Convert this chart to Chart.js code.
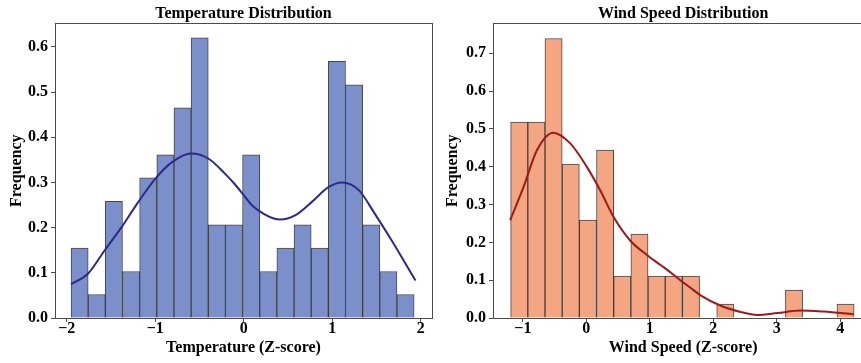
<!DOCTYPE html>
<html>
<head>
<meta charset="utf-8">
<script src="https://cdn.jsdelivr.net/npm/chart.js@4.4.1/dist/chart.umd.min.js"></script>
<style>
  html, body { margin: 0; padding: 0; background: #fff; overflow: hidden; }
  body { width: 861px; height: 363px; position: relative; }
  canvas { position: absolute; top: 0; }
  #tempChart { left: 0; }
  #windChart { left: 440px; }
</style>
</head>
<body>
<canvas id="tempChart" width="440" height="363"></canvas>
<canvas id="windChart" width="440" height="363"></canvas>
<script>
// Temperature histogram (density per bin) and its KDE curve
const tempBinStart = -1.951;
const tempBinWidth = 0.1938;
const tempHeights = [0.155, 0.052, 0.258, 0.103, 0.310, 0.361, 0.465, 0.620, 0.206, 0.206,
                     0.361, 0.103, 0.155, 0.206, 0.155, 0.568, 0.516, 0.206, 0.103, 0.052];
const tempKdeX = [-1.95, -1.76, -1.57, -1.38, -1.19, -1.0, -0.81, -0.59, -0.40, -0.21,
                  -0.10, 0.0, 0.09, 0.28, 0.41, 0.58, 0.77, 0.96, 1.11, 1.30, 1.48, 1.67, 1.94];
const tempKdeY = [0.075, 0.098, 0.150, 0.201, 0.257, 0.308, 0.345, 0.364, 0.353, 0.319,
                  0.296, 0.272, 0.250, 0.225, 0.218, 0.227, 0.257, 0.290, 0.300, 0.283, 0.231, 0.172, 0.083];
const tempXTicks = [-2, -1, 0, 1, 2];
const tempYTicks = [0.0, 0.1, 0.2, 0.3, 0.4, 0.5, 0.6];

// Wind speed histogram (null = empty bin) and its KDE curve
const windBinStart = -1.192;
const windBinWidth = 0.2705;
const windHeights = [0.518, 0.518, 0.739, 0.407, 0.259, 0.444, 0.111, 0.222, 0.111, 0.111,
                     0.111, null, 0.037, null, null, null, 0.074, null, null, 0.037];
const windKdeX = [-1.20, -0.99, -0.78, -0.52, -0.25, 0.01, 0.22, 0.43, 0.69, 0.96,
                  1.17, 1.27, 1.48, 1.64, 1.80, 2.11, 2.43, 2.69, 3.01, 3.37, 3.74, 4.21];
const windKdeY = [0.258, 0.346, 0.443, 0.490, 0.461, 0.399, 0.337, 0.267, 0.205, 0.166,
                  0.140, 0.128, 0.100, 0.080, 0.060, 0.033, 0.016, 0.008, 0.013, 0.020, 0.017, 0.010];
const windXTicks = [-1, 0, 1, 2, 3, 4];
const windYTicks = [0.0, 0.1, 0.2, 0.3, 0.4, 0.5, 0.6, 0.7];

const FONT = "'Liberation Serif', 'Times New Roman', serif";
const AXIS_COLOR = '#4a4a4a';

// Draw the full box around the plot area, like matplotlib spines
const frameBox = {
  id: 'frameBox',
  afterDraw(chart) {
    const { ctx, chartArea: a } = chart;
    ctx.save();
    ctx.strokeStyle = AXIS_COLOR;
    ctx.lineWidth = 1;
    ctx.strokeRect(Math.round(a.left) + 0.5, Math.round(a.top) + 0.5,
                   Math.round(a.right - a.left), Math.round(a.bottom - a.top));
    ctx.restore();
  }
};

function minusLabel(v) {
  return v < 0 ? '\u2212' + Math.abs(v) : String(v);
}

function buildHist(start, width, heights) {
  return heights.map((h, i) => ({ x: start + width * (i + 0.5), y: h }));
}

function buildKde(xs, ys) {
  return xs.map((x, i) => ({ x: x, y: ys[i] }));
}

function fixedTicks(values) {
  return scale => { scale.ticks = values.map(v => ({ value: v })); };
}

function makeChart(id, cfg) {
  const ctx = document.getElementById(id).getContext('2d');
  return new Chart(ctx, {
    type: 'bar',
    data: {
      datasets: [
        {
          type: 'line',
          data: cfg.kde,
          borderColor: cfg.lineColor,
          borderWidth: 2,
          pointRadius: 0,
          tension: 0.4,
          cubicInterpolationMode: 'monotone',
          order: 0
        },
        {
          type: 'bar',
          data: cfg.hist,
          backgroundColor: cfg.barColor,
          borderColor: 'rgba(40,40,40,0.85)',
          borderWidth: 1,
          borderSkipped: 'bottom',
          barPercentage: 1,
          categoryPercentage: 1,
          order: 1
        }
      ]
    },
    options: {
      responsive: false,
      animation: false,
      events: [],
      layout: { padding: { left: 0, right: cfg.padRight, top: 0, bottom: 0 } },
      plugins: {
        legend: { display: false },
        tooltip: { enabled: false },
        title: {
          display: true,
          text: cfg.title,
          fullSize: false,
          color: '#000',
          font: { family: FONT, size: 16, weight: 'bold', lineHeight: 1.2 },
          padding: { top: 4.2, bottom: 0 }
        }
      },
      scales: {
        x: {
          type: 'linear',
          min: cfg.xMin,
          max: cfg.xMax,
          offset: false,
          afterFit: s => { s.height = 45; },
          afterBuildTicks: fixedTicks(cfg.xTicks),
          grid: { offset: false, drawOnChartArea: false, drawTicks: true, tickLength: 4, color: AXIS_COLOR },
          border: { display: false },
          ticks: {
            autoSkip: false,
            padding: 0,
            maxRotation: 0,
            color: '#000',
            font: { family: FONT, size: 16, weight: 'bold', lineHeight: 0.9 },
            callback: v => minusLabel(v)
          },
          title: {
            display: true,
            text: cfg.xTitle,
            color: '#000',
            font: { family: FONT, size: 16, weight: 'bold', lineHeight: 1.2 },
            padding: { top: 0, bottom: 6 }
          }
        },
        y: {
          min: 0,
          max: cfg.yMax,
          afterFit: s => { s.width = cfg.yWidth; },
          afterBuildTicks: fixedTicks(cfg.yTicks),
          grid: { drawOnChartArea: false, drawTicks: true, tickLength: 4, color: AXIS_COLOR },
          border: { display: false },
          ticks: {
            autoSkip: false,
            padding: 3,
            color: '#000',
            font: { family: FONT, size: 16, weight: 'bold' },
            callback: v => v.toFixed(1)
          },
          title: {
            display: true,
            text: 'Frequency',
            color: '#000',
            font: { family: FONT, size: 16, weight: 'bold', lineHeight: 1.2 },
            padding: { top: cfg.yTitlePad, bottom: 0 }
          }
        }
      }
    },
    plugins: [frameBox]
  });
}

document.addEventListener('DOMContentLoaded', () => {
  makeChart('tempChart', {
    title: 'Temperature Distribution',
    xTitle: 'Temperature (Z-score)',
    hist: buildHist(tempBinStart, tempBinWidth, tempHeights),
    kde: buildKde(tempKdeX, tempKdeY),
    xTicks: tempXTicks, yTicks: tempYTicks,
    barColor: '#7b8fca',
    lineColor: '#2a2a8c',
    xMin: -2.132, xMax: 2.127, yMax: 0.652,
    yWidth: 55, padRight: 8, yTitlePad: 7.4
  });

  makeChart('windChart', {
    title: 'Wind Speed Distribution',
    xTitle: 'Wind Speed (Z-score)',
    hist: buildHist(windBinStart, windBinWidth, windHeights),
    kde: buildKde(windKdeX, windKdeY),
    xTicks: windXTicks, yTicks: windYTicks,
    barColor: '#f4a582',
    lineColor: '#9b1a1a',
    xMin: -1.47, xMax: 4.52, yMax: 0.779,
    yWidth: 53, padRight: 6.7, yTitlePad: 3.7
  });
});
</script>
</body>
</html>
